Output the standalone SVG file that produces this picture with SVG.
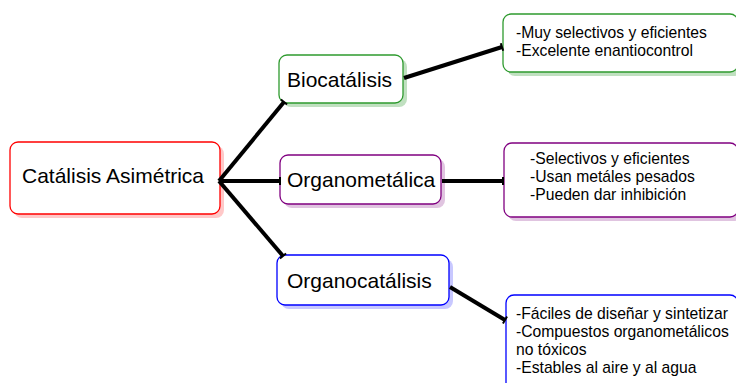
<svg xmlns="http://www.w3.org/2000/svg" width="736" height="383" viewBox="0 0 736 383">
<defs>
<style>
.t{font-family:"Liberation Sans",Arial,sans-serif;fill:#000}
.main{font-size:21px}
.sub{font-size:15.7px}
.box{fill:#fff;stroke-width:1.3}
.conn{stroke:#000;stroke-width:4;fill:none;marker-end:url(#tick)}
</style>
<marker id="tick" markerUnits="userSpaceOnUse" markerWidth="6" markerHeight="12" viewBox="-3 -6 6 12" refX="0" refY="0" orient="auto">
<path d="M0,-4 L0,4" stroke="#000" stroke-width="2"/>
</marker>
</defs>
<rect width="736" height="383" fill="#fff"/>
<g id="root">
<rect x="14" y="146" width="210" height="72" rx="8" fill="#ffc8c8"/>
<rect class="box" x="10" y="142" width="210" height="72" rx="8" stroke="#ff0000"/>
<text class="t main" x="22" y="183">Catálisis Asimétrica</text>
</g>
<g id="biocatalisis">
<rect x="283" y="59" width="124" height="48" rx="8" fill="#c0e0c0"/>
<rect class="box" x="279" y="55" width="124" height="48" rx="8" stroke="#2e9a2e"/>
<text class="t main" x="287" y="87">Biocatálisis</text>
</g>
<g id="organometalica">
<rect x="284" y="159" width="161" height="49" rx="8" fill="#e0c4e0"/>
<rect class="box" x="280" y="155" width="161" height="49" rx="8" stroke="#800080"/>
<text class="t main" x="287" y="187">Organometálica</text>
</g>
<g id="organocatalisis">
<rect x="281" y="259" width="172" height="50" rx="8" fill="#c8c8ff"/>
<rect class="box" x="277" y="255" width="172" height="50" rx="8" stroke="#0000ff"/>
<text class="t main" x="287" y="288">Organocatálisis</text>
</g>
<g id="bio-info">
<rect x="507" y="18" width="235" height="58" rx="8" fill="#c0e0c0"/>
<rect class="box" x="503" y="14" width="235" height="58" rx="8" stroke="#2e9a2e"/>
<text class="t sub" x="516" y="38">-Muy selectivos y eficientes</text>
<text class="t sub" x="516" y="56">-Excelente enantiocontrol</text>
</g>
<g id="organomet-info">
<rect x="508" y="147" width="234" height="74" rx="8" fill="#e0c4e0"/>
<rect class="box" x="504" y="143" width="234" height="74" rx="8" stroke="#800080"/>
<text class="t sub" x="530" y="164">-Selectivos y eficientes</text>
<text class="t sub" x="530" y="182">-Usan metáles pesados</text>
<text class="t sub" x="530" y="200">-Pueden dar inhibición</text>
</g>
<g id="organocat-info">
<rect x="510" y="299" width="232" height="100" rx="8" fill="#c8c8ff"/>
<rect class="box" x="506" y="295" width="232" height="100" rx="8" stroke="#0000ff"/>
<text class="t sub" x="516" y="319">-Fáciles de diseñar y sintetizar</text>
<text class="t sub" x="516" y="337">-Compuestos organometálicos</text>
<text class="t sub" x="516" y="355">no tóxicos</text>
<text class="t sub" x="516" y="373">-Estables al aire y al agua</text>
</g>
<g id="connectors">
<line class="conn" x1="219" y1="181" x2="284" y2="102"/>
<line class="conn" x1="219" y1="181" x2="280" y2="181"/>
<line class="conn" x1="219" y1="181" x2="283" y2="256"/>
<line class="conn" x1="404" y1="78" x2="502" y2="47"/>
<line class="conn" x1="442" y1="181" x2="503" y2="181"/>
<line class="conn" x1="450" y1="287" x2="505" y2="320"/>
</g>
</svg>
